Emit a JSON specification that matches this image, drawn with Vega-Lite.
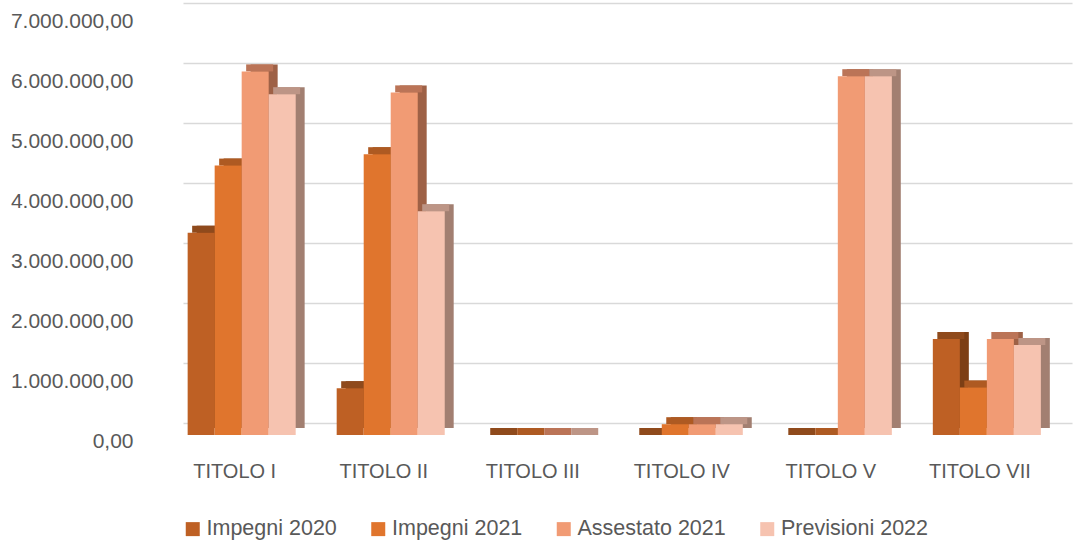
{
  "$schema": "https://vega.github.io/schema/vega-lite/v6.json",
  "autosize": {"type": "none"},
  "padding": {"left": 183, "top": 3, "right": 2, "bottom": 126},
  "width": 889,
  "height": 420,
  "config": {
    "font": "Liberation Sans",
    "view": {"stroke": null},
    "locale": {"number": {"decimal": ",", "thousands": ".", "grouping": [3], "currency": ["€", ""]}},
    "axis": {"labelColor": "#595959"}
  },
  "data": {
    "values": [
      {"titolo": "TITOLO I", "serie": "Impegni 2020", "valore": 3370000},
      {"titolo": "TITOLO I", "serie": "Impegni 2021", "valore": 4490000},
      {"titolo": "TITOLO I", "serie": "Assestato 2021", "valore": 6060000},
      {"titolo": "TITOLO I", "serie": "Previsioni 2022", "valore": 5680000},
      {"titolo": "TITOLO II", "serie": "Impegni 2020", "valore": 780000},
      {"titolo": "TITOLO II", "serie": "Impegni 2021", "valore": 4680000},
      {"titolo": "TITOLO II", "serie": "Assestato 2021", "valore": 5710000},
      {"titolo": "TITOLO II", "serie": "Previsioni 2022", "valore": 3730000},
      {"titolo": "TITOLO III", "serie": "Impegni 2020", "valore": 0},
      {"titolo": "TITOLO III", "serie": "Impegni 2021", "valore": 0},
      {"titolo": "TITOLO III", "serie": "Assestato 2021", "valore": 0},
      {"titolo": "TITOLO III", "serie": "Previsioni 2022", "valore": 0},
      {"titolo": "TITOLO IV", "serie": "Impegni 2020", "valore": 0},
      {"titolo": "TITOLO IV", "serie": "Impegni 2021", "valore": 180000},
      {"titolo": "TITOLO IV", "serie": "Assestato 2021", "valore": 180000},
      {"titolo": "TITOLO IV", "serie": "Previsioni 2022", "valore": 180000},
      {"titolo": "TITOLO V", "serie": "Impegni 2020", "valore": 0},
      {"titolo": "TITOLO V", "serie": "Impegni 2021", "valore": 0},
      {"titolo": "TITOLO V", "serie": "Assestato 2021", "valore": 5980000},
      {"titolo": "TITOLO V", "serie": "Previsioni 2022", "valore": 5980000},
      {"titolo": "TITOLO VII", "serie": "Impegni 2020", "valore": 1600000},
      {"titolo": "TITOLO VII", "serie": "Impegni 2021", "valore": 790000},
      {"titolo": "TITOLO VII", "serie": "Assestato 2021", "valore": 1600000},
      {"titolo": "TITOLO VII", "serie": "Previsioni 2022", "valore": 1500000}
    ]
  },
  "encoding": {
    "x": {
      "field": "titolo", "type": "nominal",
      "sort": ["TITOLO I", "TITOLO II", "TITOLO III", "TITOLO IV", "TITOLO V", "TITOLO VII"],
      "scale": {"paddingInner": 0.275, "paddingOuter": 0.12, "align": 0.13},
      "axis": {"title": null, "labelAngle": 0, "labelFontSize": 20, "labelPadding": 38, "labelOffset": -7, "ticks": false, "tickSize": 0, "domain": false, "grid": false}
    },
    "y": {
      "field": "valore", "type": "quantitative",
      "scale": {"domain": [0, 7000000], "nice": false},
      "axis": {"title": null, "values": [0, 1000000, 2000000, 3000000, 4000000, 5000000, 6000000, 7000000], "format": ",.2f", "labelFontSize": 21, "labelPadding": 50, "labelOffset": 18, "ticks": false, "tickSize": 0, "domain": false, "gridColor": "#D9D9D9", "gridWidth": 1.5}
    }
  },
  "layer": [
    {
      "mark": {"type": "bar", "yOffset": 5, "y2Offset": 5},
      "encoding": {
        "xOffset": {"field": "serie", "type": "nominal", "sort": ["Impegni 2020", "Impegni 2021", "Assestato 2021", "Previsioni 2022"],
          "scale": {"paddingInner": 0, "paddingOuter": 0, "range": [9, 117]}},
        "y2": {"datum": 0},
        "color": {"field": "serie", "type": "nominal", "sort": ["Impegni 2020", "Impegni 2021", "Assestato 2021", "Previsioni 2022"],
          "scale": {"range": ["#7D3F15", "#97501E", "#9E6146", "#A27F71"]}, "legend": null}
      }
    },
    {
      "mark": {"type": "bar", "yOffset": 5, "y2Offset": 12},
      "encoding": {
        "xOffset": {"field": "serie", "type": "nominal", "sort": ["Impegni 2020", "Impegni 2021", "Assestato 2021", "Previsioni 2022"],
          "scale": {"paddingInner": 0, "paddingOuter": 0, "range": [4.5, 112.5]}},
        "y2": {"field": "valore"},
        "color": {"field": "serie", "type": "nominal", "sort": ["Impegni 2020", "Impegni 2021", "Assestato 2021", "Previsioni 2022"],
          "scale": {"range": ["#8F4A1C", "#AE5A22", "#BB7457", "#BD9586"]}, "legend": null}
      }
    },
    {
      "mark": {"type": "bar", "yOffset": 12, "y2Offset": 12},
      "encoding": {
        "xOffset": {"field": "serie", "type": "nominal", "sort": ["Impegni 2020", "Impegni 2021", "Assestato 2021", "Previsioni 2022"],
          "scale": {"paddingInner": 0, "paddingOuter": 0}},
        "y2": {"datum": 0},
        "color": {"field": "serie", "type": "nominal", "sort": ["Impegni 2020", "Impegni 2021", "Assestato 2021", "Previsioni 2022"],
          "scale": {"range": ["#BE6024", "#E0752D", "#F19B74", "#F6C3B0"]},
          "legend": {"title": null, "orient": "none", "legendX": -1, "legendY": 515, "direction": "horizontal", "symbolType": "square", "symbolSize": 196, "symbolStrokeWidth": 0, "symbolOpacity": 1, "labelFontSize": 21.5, "labelColor": "#595959", "labelOffset": 3, "columnPadding": 30.5, "padding": 0, "labelLimit": 0}}
      }
    }
  ],
  "resolve": {"scale": {"color": "independent", "xOffset": "independent"}}
}
